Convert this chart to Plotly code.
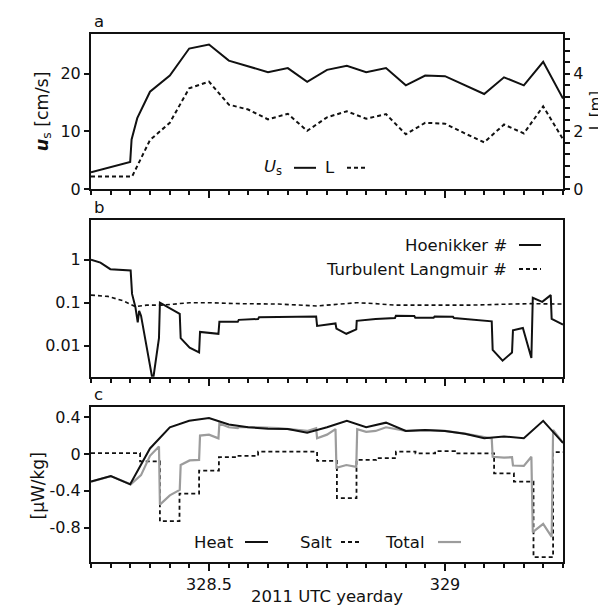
import plotly.graph_objects as go

# ---------------- data ----------------
us_day = [328.250, 328.292, 328.333, 328.336, 328.348, 328.375, 328.417, 328.458, 328.500, 328.542,
          328.583, 328.625, 328.667, 328.708, 328.750, 328.792, 328.833, 328.875, 328.917, 328.958,
          329.000, 329.042, 329.083, 329.125, 329.167, 329.208, 329.250]
us_cms = [2.9, 3.8, 4.7, 8.6, 12.3, 16.9, 19.7, 24.4, 25.1, 22.3,
          21.3, 20.3, 21.0, 18.6, 20.7, 21.4, 20.3, 21.0, 18.0, 19.7,
          19.6, 18.0, 16.5, 19.4, 18.0, 22.1, 15.7]

L_day = [328.250, 328.292, 328.337, 328.375, 328.417, 328.458, 328.500, 328.542, 328.583, 328.625,
         328.667, 328.708, 328.750, 328.792, 328.833, 328.875, 328.917, 328.958, 329.000, 329.042,
         329.083, 329.125, 329.167, 329.208, 329.250]
L_m = [0.43, 0.43, 0.43, 1.7, 2.3, 3.5, 3.73, 2.93, 2.76, 2.42,
       2.61, 2.02, 2.49, 2.70, 2.44, 2.60, 1.90, 2.30, 2.27, 1.93,
       1.62, 2.24, 1.93, 2.87, 1.73]

ho_day = [328.250, 328.270, 328.291, 328.334, 328.337, 328.344, 328.349, 328.352, 328.356, 328.381,
          328.394, 328.396, 328.438, 328.440, 328.459, 328.479, 328.481, 328.520, 328.522, 328.561,
          328.563, 328.604, 328.606, 328.686, 328.727, 328.729, 328.768, 328.770, 328.791, 328.812,
          328.813, 328.853, 328.894, 328.896, 328.935, 328.937, 328.976, 328.978, 329.017, 329.019,
          329.058, 329.099, 329.101, 329.122, 329.142, 329.144, 329.165, 329.183, 329.186, 329.206,
          329.224, 329.226, 329.250]
ho_val = [1.0, 0.85, 0.6, 0.56, 0.16, 0.08, 0.035, 0.065, 0.05, 0.0015,
          0.015, 0.1, 0.055, 0.015, 0.009, 0.007, 0.021, 0.019, 0.036, 0.036,
          0.04, 0.042, 0.046, 0.047, 0.048, 0.029, 0.033, 0.025, 0.019, 0.024,
          0.038, 0.042, 0.044, 0.05, 0.049, 0.045, 0.045, 0.048, 0.047, 0.044,
          0.041, 0.037, 0.008, 0.0045, 0.007, 0.023, 0.026, 0.0052, 0.13, 0.105,
          0.15, 0.042, 0.031]

la_day = [328.250, 328.286, 328.319, 328.344, 328.368, 328.401, 328.459, 328.500, 328.565, 328.647,
          328.729, 328.812, 328.853, 328.894, 328.976, 329.058, 329.140, 329.181, 329.250]
la_val = [0.15, 0.14, 0.11, 0.081, 0.088, 0.088, 0.1, 0.1, 0.095, 0.093,
          0.084, 0.1, 0.095, 0.088, 0.088, 0.088, 0.093, 0.095, 0.093]

hour_day = [328.250, 328.292, 328.333, 328.375, 328.417, 328.458, 328.500, 328.542, 328.583, 328.625,
            328.667, 328.708, 328.750, 328.792, 328.833, 328.875, 328.917, 328.958, 329.000, 329.042,
            329.083, 329.125, 329.167, 329.208, 329.250]
heat_val = [-0.30, -0.24, -0.33, 0.06, 0.29, 0.36, 0.39, 0.32, 0.29, 0.275,
            0.27, 0.23, 0.29, 0.36, 0.29, 0.34, 0.25, 0.26, 0.25, 0.22,
            0.17, 0.19, 0.17, 0.36, 0.12]
salt_val = [0.01, 0.01, 0.01, -0.08, -0.73, -0.43, -0.18, -0.035, -0.02, 0.025,
            0.025, 0.025, -0.075, -0.48, -0.065, -0.045, 0.025, 0.007, 0.03, 0.007,
            0.007, -0.21, -0.30, -1.12, 0.02]

tot_day = [328.250, 328.292, 328.334, 328.356, 328.375, 328.394, 328.396, 328.417, 328.438, 328.440,
           328.459, 328.479, 328.481, 328.500, 328.520, 328.522, 328.542, 328.561, 328.563, 328.604,
           328.647, 328.686, 328.708, 328.727, 328.729, 328.750, 328.768, 328.770, 328.791, 328.812,
           328.814, 328.833, 328.853, 328.875, 328.894, 328.917, 328.958, 329.000, 329.042, 329.083,
           329.099, 329.101, 329.125, 329.142, 329.144, 329.167, 329.183, 329.186, 329.208, 329.226,
           329.229, 329.250]
tot_val = [-0.30, -0.24, -0.33, -0.23, -0.02, 0.08, -0.55, -0.45, -0.39, -0.12,
           -0.07, -0.065, 0.20, 0.21, 0.17, 0.33, 0.29, 0.28, 0.29, 0.29,
           0.28, 0.26, 0.25, 0.28, 0.17, 0.21, 0.27, -0.15, -0.12, -0.14,
           0.27, 0.24, 0.25, 0.29, 0.27, 0.25, 0.26, 0.25, 0.22, 0.18,
           0.17, -0.03, -0.04, -0.035, -0.125, -0.13, -0.03, -0.85, -0.76, -0.9,
           0.26, 0.12]

x_ticks = [328.5, 329]
x_ticktext = ["328.5", "329"]
a_ticks = [0, 10, 20]
L_ticks = [0, 2, 4]
b_ticks = [0.01, 0.1, 1]
b_ticktext = ["0.01", "0.1", "1"]
c_ticks = [0.4, 0, -0.4, -0.8]
c_ticktext = ["0.4", "0", "-0.4", "-0.8"]

# ---------------- layout helpers ----------------
W, H = 606, 605
ML, MR = 83, 51
FONT = "DejaVu Sans"
FS = 16
FL = 16.5
BLACK = "#111111"
GRAY = "#9c9c9c"


def px(x):
    return (x - ML) / (W - ML - MR)


def py(y):
    return 1 - y / H


A_TOP, A_BOT = 26, 184
B_TOP, B_BOT = 216, 375
C_TOP, C_BOT = 406, 563

fig = go.Figure()
fig.add_trace(go.Scatter(x=us_day, y=us_cms, mode="lines", line=dict(color=BLACK, width=2),
                         xaxis="x", yaxis="y", showlegend=False))
fig.add_trace(go.Scatter(x=L_day, y=L_m, mode="lines", line=dict(color=BLACK, width=2, dash="4px,3px"),
                         xaxis="x", yaxis="y4", showlegend=False))
fig.add_trace(go.Scatter(x=la_day, y=la_val, mode="lines", line=dict(color=BLACK, width=1.6, dash="4px,3px"),
                         xaxis="x2", yaxis="y2", showlegend=False))
fig.add_trace(go.Scatter(x=ho_day, y=ho_val, mode="lines", line=dict(color=BLACK, width=2),
                         xaxis="x2", yaxis="y2", showlegend=False))
fig.add_trace(go.Scatter(x=hour_day, y=salt_val, mode="lines",
                         line=dict(color=BLACK, width=1.8, dash="4px,3px", shape="hvh"),
                         xaxis="x3", yaxis="y3", showlegend=False))
fig.add_trace(go.Scatter(x=tot_day, y=tot_val, mode="lines", line=dict(color=GRAY, width=2.2),
                         xaxis="x3", yaxis="y3", showlegend=False))
fig.add_trace(go.Scatter(x=hour_day, y=heat_val, mode="lines", line=dict(color=BLACK, width=2),
                         xaxis="x3", yaxis="y3", showlegend=False))

xcommon = dict(range=[328.25, 329.25], showgrid=False, zeroline=False, showline=True, linecolor=BLACK,
               linewidth=2, mirror=True, ticks="outside", ticklen=7, tickwidth=1.5, tickcolor=BLACK,
               tickvals=x_ticks, ticktext=x_ticktext,
               minor=dict(tickmode="linear", tick0=328.25, dtick=1 / 24, ticks="outside", ticklen=4,
                          tickwidth=1.5, tickcolor=BLACK, showgrid=False),
               tickfont=dict(family=FONT, size=FS, color=BLACK))
ycommon = dict(showgrid=False, zeroline=False, showline=True, linecolor=BLACK, linewidth=2, mirror=True,
               ticks="outside", ticklen=5, tickwidth=1.5, tickcolor=BLACK,
               tickfont=dict(family=FONT, size=FS, color=BLACK))

fig.update_layout(
    width=W, height=H, margin=dict(l=ML, r=MR, t=0, b=0),
    paper_bgcolor="white", plot_bgcolor="white",
    font=dict(family=FONT, size=FS, color=BLACK),
    xaxis=dict(xcommon, anchor="y", showticklabels=False),
    xaxis2=dict(xcommon, anchor="y2", showticklabels=False),
    xaxis3=dict(xcommon, anchor="y3", showticklabels=True),
    yaxis=dict(ycommon, domain=[py(A_BOT), py(A_TOP)], range=[0, 27], tickvals=a_ticks, anchor="x"),
    yaxis4=dict(ycommon, overlaying="y", side="right", anchor="x", range=[0, 5.4], tickvals=L_ticks,
                mirror=False,
                minor=dict(tickmode="linear", tick0=0, dtick=0.4, ticks="outside", ticklen=5,
                           tickwidth=1.5, tickcolor=BLACK)),
    yaxis2=dict(ycommon, domain=[py(B_BOT), py(B_TOP)], type="log", range=[-2.72, 0.91],
                tickvals=b_ticks, ticktext=b_ticktext, anchor="x2"),
    yaxis3=dict(ycommon, domain=[py(C_BOT), py(C_TOP)], range=[-1.17, 0.507],
                tickvals=c_ticks, ticktext=c_ticktext, anchor="x3"),
)

ann = []
shapes = []


def text(x, y, s, xanchor="center", yanchor="middle", angle=0, size=FL):
    ann.append(dict(x=px(x), y=py(y), xref="paper", yref="paper", text=s, showarrow=False,
                    xanchor=xanchor, yanchor=yanchor, textangle=angle,
                    font=dict(family=FONT, size=size, color=BLACK)))


def sample(x0, x1, y, dash="solid", color=BLACK, width=2):
    shapes.append(dict(type="line", xref="paper", yref="paper", x0=px(x0), x1=px(x1), y0=py(y), y1=py(y),
                       line=dict(color=color, width=width, dash=dash)))


# panel letters
text(84, A_TOP - 1, "a", xanchor="left", yanchor="bottom")
text(84, B_TOP - 1, "b", xanchor="left", yanchor="bottom")
text(84, C_TOP - 1, "c", xanchor="left", yanchor="bottom")

# axis titles
text(35, (A_TOP + A_BOT) / 2, "<b><i>u</i></b><sub>s</sub> [cm/s]", angle=-90, size=17.5)
text(588, (A_TOP + A_BOT) / 2, "L [m]", angle=-90, size=15)
text(30, (C_TOP + C_BOT) / 2 + 2, "[μW/kg]", angle=-90, size=17)
text(319, 598, "2011 UTC yearday")

# panel a legend
text(276, 162.5, "<i>U</i><sub>s</sub>", xanchor="right")
sample(286, 308, 162.5)
text(329, 162.5, "L", xanchor="right")
sample(339, 358, 162.5, dash="4px,3px")

# panel b legend
text(501, 241, "Hoenikker #", xanchor="right")
sample(511, 533, 241)
text(501, 265.5, "Turbulent Langmuir #", xanchor="right")
sample(511, 533, 265.5, dash="4px,3px")

# panel c legend
text(228, 543, "Heat", xanchor="right")
sample(237, 260, 543)
text(326, 543, "Salt", xanchor="right")
sample(333, 353, 543, dash="4px,3px")
text(419, 543, "Total", xanchor="right")
sample(430, 453, 543, color=GRAY, width=2.2)

fig.update_layout(annotations=ann, shapes=shapes)
fig.write_html("out.html")
